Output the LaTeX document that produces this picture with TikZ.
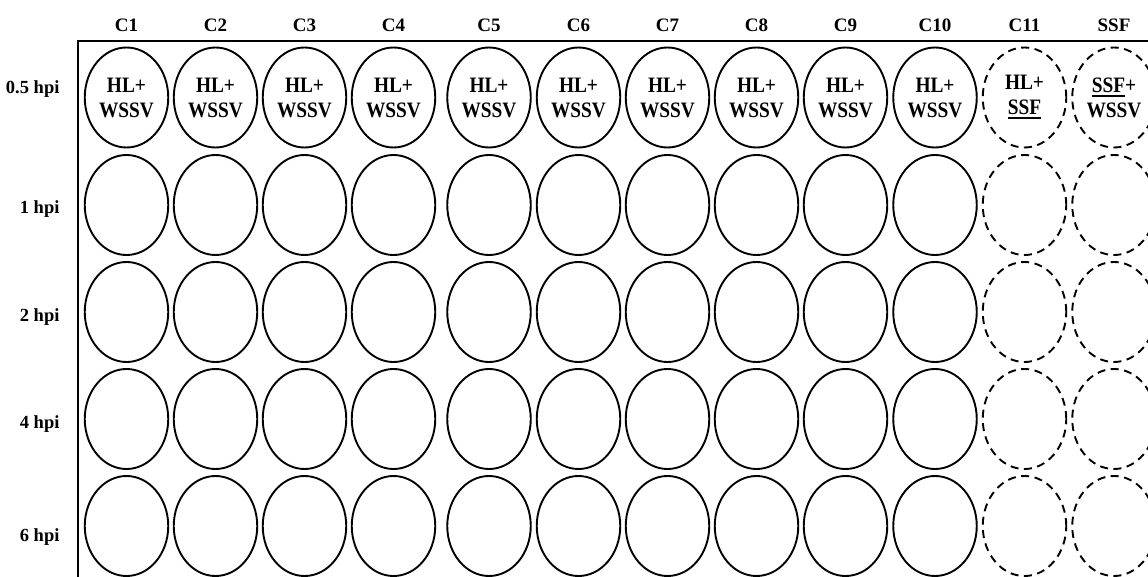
\documentclass[tikz,border=0pt]{standalone}
\usepackage{fontspec}
\setmainfont{Liberation Serif}
\newfontfamily\wellfont{Liberation Serif}[FakeStretch=0.88]
\usetikzlibrary{shapes.geometric}
\newcommand\ulx[1]{\setbox0=\hbox{#1}\rlap{\rule[-4.5pt]{\wd0}{2pt}}\box0}
\tikzset{
  well/.style={ellipse, draw, line width=1.9pt, minimum width=83.5pt, minimum height=100pt,
    inner sep=0pt, align=center, font=\wellfont\bfseries\fontsize{22}{25}\selectfont},
  ctrl/.style={well, dash pattern=on 8pt off 5.5pt},
  colhead/.style={anchor=base, font=\bfseries\fontsize{19}{20}\selectfont},
  rowhead/.style={anchor=base east, font=\bfseries\fontsize{18.5}{20}\selectfont},
  plateframe/.style={line width=2.4pt}
}
\begin{document}
\begin{tikzpicture}[x=1pt,y=-1pt]
\useasboundingbox (0,0) rectangle (1148,577);
% frame
\coordinate (fr-tr) at (1152,41);
\coordinate (fr-tl) at (78,41);
\coordinate (fr-bl) at (78,582);
\draw[plateframe] (fr-tr) -- (fr-tl) -- (fr-bl);
% column headers
\foreach \c/\x/\t in {1/126.5/C1, 2/215.5/C2, 3/304.5/C3, 4/393.5/C4, 5/489/C5, 6/578.5/C6,
  7/667.5/C7, 8/756.5/C8, 9/845.5/C9, 10/935/C10, 11/1024.5/C11, 12/1114/SSF}
  \node[colhead] (h\c) at (\x,31.5) {\t};
% row headers
\foreach \r/\y/\t in {1/93.5/0.5 hpi, 2/213.5/1 hpi, 3/321.5/2 hpi, 4/428.5/4 hpi, 5/541/6 hpi}
  \node[rowhead] (r\r) at (63,\y) {\t};
% wells
\foreach \r/\y in {1/97.5, 2/205, 3/312, 4/419, 5/526}{
  \foreach \c/\x in {1/126.5, 2/215.5, 3/304.5, 4/393.5, 5/489, 6/578.5,
    7/667.5, 8/756.5, 9/845.5, 10/935}{
    \ifnum\r=1
      \node[well] (w\r-\c) at (\x,\y) {HL+\\WSSV};
    \else
      \node[well] (w\r-\c) at (\x,\y) {};
    \fi
  }
  \ifnum\r=1
    \node[ctrl] (w\r-11) at (1024.5,\y) {HL+\\\ulx{SSF}};
    \node[ctrl] (w\r-12) at (1114,\y) {\ulx{SSF}+\\WSSV};
  \else
    \node[ctrl] (w\r-11) at (1024.5,\y) {};
    \node[ctrl] (w\r-12) at (1114,\y) {};
  \fi
}
\end{tikzpicture}
\end{document}
